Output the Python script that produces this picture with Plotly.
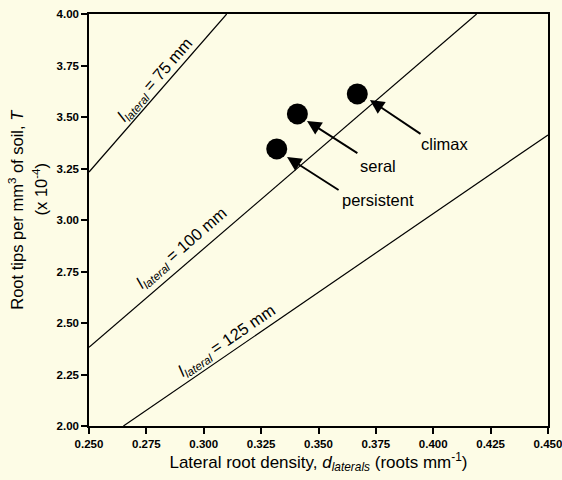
import plotly.graph_objects as go

# Reference lines (endpoints)
line_names = ["75 mm", "100 mm", "125 mm"]
line_x = [[0.250, 0.3100], [0.250, 0.4189], [0.2650, 0.450]]
line_y = [[3.233, 4.000], [2.382, 4.000], [2.000, 3.413]]

# Data points
pt_names = ["persistent", "seral", "climax"]
pt_x = [0.3318, 0.3408, 0.3669]
pt_y = [3.345, 3.515, 3.612]

# Arrow tips / tails and text positions
arrow_tip_x = [0.3363, 0.3450, 0.3724]
arrow_tip_y = [3.306, 3.481, 3.583]
arrow_tail_x = [0.3594, 0.3676, 0.3951]
arrow_tail_y = [3.141, 3.320, 3.413]
text_x = [0.3759, 0.3759, 0.4051]
text_y = [3.097, 3.262, 3.369]

# Line labels
lab_x = [0.2788, 0.2905, 0.3101]
lab_y = [3.680, 2.864, 2.413]
lab_angle = [-49, -41, -34.5]

x_ticks = [0.250, 0.275, 0.300, 0.325, 0.350, 0.375, 0.400, 0.425, 0.450]
y_ticks = [2.00, 2.25, 2.50, 2.75, 3.00, 3.25, 3.50, 3.75, 4.00]

bg = "#FDFCE6"
font = "Liberation Sans, Arial, sans-serif"

fig = go.Figure()
for nm, lx, ly in zip(line_names, line_x, line_y):
    fig.add_trace(go.Scatter(x=lx, y=ly, mode="lines", name=nm,
                             line=dict(color="black", width=1.2), showlegend=False))

fig.add_trace(go.Scatter(x=pt_x, y=pt_y, mode="markers", text=pt_names,
                         marker=dict(color="black", size=21), showlegend=False))

annotations = []
for tx, ty, ax, ay in zip(arrow_tip_x, arrow_tip_y, arrow_tail_x, arrow_tail_y):
    annotations.append(dict(x=tx, y=ty, ax=ax, ay=ay, xref="x", yref="y",
                            axref="x", ayref="y", text="", showarrow=True,
                            arrowhead=2, arrowsize=1.5, arrowwidth=1.9,
                            arrowcolor="black"))
for nm, tx, ty in zip(pt_names, text_x, text_y):
    annotations.append(dict(x=tx, y=ty, xref="x", yref="y", text=nm,
                            showarrow=False, font=dict(size=16.5, color="black", family=font)))
for nm, lx, ly, ang in zip(line_names, lab_x, lab_y, lab_angle):
    annotations.append(dict(x=lx, y=ly, xref="x", yref="y",
                            text="<i>l</i><sub><i>lateral</i></sub> = " + nm,
                            textangle=ang, showarrow=False,
                            font=dict(size=16.5, color="black", family=font)))

# y-axis title (two lines)
annotations.append(dict(x=-0.159, y=0.525, xref="paper", yref="paper",
                        text="Root tips per mm<sup>3</sup> of soil, <i>T</i>",
                        textangle=-90, showarrow=False, xanchor="center", yanchor="middle",
                        font=dict(size=16.5, color="black", family=font)))
annotations.append(dict(x=-0.106, y=0.575, xref="paper", yref="paper",
                        text="(x 10<sup>-4</sup>)",
                        textangle=-90, showarrow=False, xanchor="center", yanchor="middle",
                        font=dict(size=16.5, color="black", family=font)))

fig.update_layout(
    width=562, height=480,
    margin=dict(l=89, r=14, t=14, b=54, autoexpand=False),
    paper_bgcolor=bg, plot_bgcolor=bg,
    annotations=annotations,
    font=dict(family=font, color="black"),
)
fig.update_xaxes(range=[0.250, 0.450], tickvals=x_ticks,
                 ticktext=[f"<b>{v:.3f}</b>" for v in x_ticks], automargin=False,
                 ticklabeloverflow="allow",
                 showgrid=False, zeroline=False, showline=True, mirror=True,
                 linecolor="black", linewidth=1.5, ticks="outside", ticklen=6,
                 tickwidth=1.5, tickcolor="black",
                 tickfont=dict(size=11.5, family=font),
                 title=dict(text="Lateral root density, <i>d<sub>laterals</sub></i> (roots mm<sup>-1</sup>)",
                            font=dict(size=17, family=font), standoff=6))
fig.update_yaxes(range=[2.00, 4.00], tickvals=y_ticks,
                 ticktext=[f"<b>{v:.2f}</b>" for v in y_ticks], automargin=False,
                 ticklabeloverflow="allow",
                 showgrid=False, zeroline=False, showline=True, mirror=True,
                 linecolor="black", linewidth=1.5, ticks="outside", ticklen=6,
                 tickwidth=1.5, tickcolor="black",
                 tickfont=dict(size=11.5, family=font))

fig.write_html("out.html", config={"displayModeBar": False},
               post_script="document.body.style.margin='0';document.body.style.overflow='hidden';")
